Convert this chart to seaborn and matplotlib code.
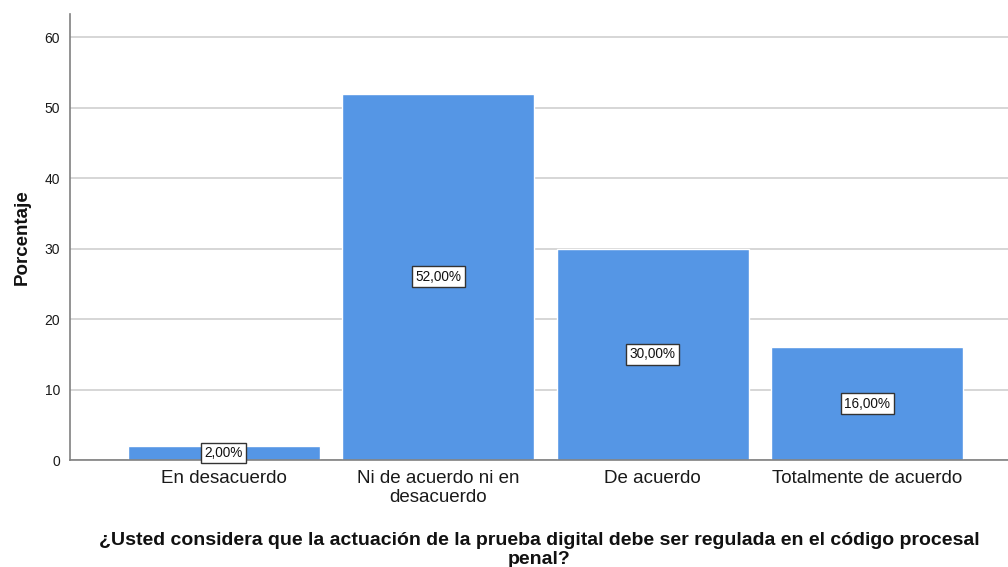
import pandas as pd
import seaborn as sns
import matplotlib.pyplot as plt

categorias = ["En desacuerdo", "Ni de acuerdo ni en\ndesacuerdo", "De acuerdo", "Totalmente de acuerdo"]
porcentajes = [2.0, 52.0, 30.0, 16.0]
ticks_y = [0, 10, 20, 30, 40, 50, 60]

titulo = "¿Usted considera que la actuación de la prueba digital debe ser regulada en el código procesal\npenal?"


def plot_barras(df):
    fig = plt.figure(figsize=(10.08, 5.67), dpi=100)
    ax = fig.add_axes([0.0694, 0.1887, 0.9306, 0.7866])
    sns.barplot(data=df, x="categoria", y="porcentaje", color="#5596E5",
                width=0.895, saturation=1, ax=ax, zorder=2)
    ax.set_xlim(-0.718, 3.657)
    ax.set_ylim(0, 63.3)
    ax.set_yticks(ticks_y)
    ax.yaxis.grid(True, color="#D0D0D0", linewidth=1.2, zorder=0)
    ax.set_axisbelow(True)
    for s in ["top", "right"]:
        ax.spines[s].set_visible(False)
    for s in ["left", "bottom"]:
        ax.spines[s].set_color("#808080")
        ax.spines[s].set_linewidth(1.2)
    ax.tick_params(axis="both", length=0)
    ax.tick_params(axis="x", labelsize=13.5, colors="#1a1a1a", pad=7)
    ax.tick_params(axis="y", labelsize=10, colors="#1a1a1a", pad=7)
    for lab in ax.get_xticklabels():
        lab.set_linespacing(1.15)
    ax.set_ylabel("Porcentaje", fontsize=13.5, fontweight="bold", labelpad=10, color="#111111")
    ax.set_xlabel(titulo, fontsize=14, fontweight="bold", labelpad=19, linespacing=1.15,
                  color="#111111")

    # etiquetas de valor en el centro de cada barra
    for i, v in enumerate(df["porcentaje"]):
        ax.text(i, v / 2, f"{v:.2f}%".replace(".", ","), ha="center", va="center",
                fontsize=9.8, zorder=5, color="#111111",
                bbox=dict(boxstyle="square,pad=0.25", facecolor="white",
                          edgecolor="#333333", linewidth=1))
    return fig


if __name__ == "__main__":
    sns.set_style("white")
    plt.rcParams["font.family"] = ["Liberation Sans", "DejaVu Sans"]
    df = pd.DataFrame({"categoria": categorias, "porcentaje": porcentajes})
    fig = plot_barras(df)
    fig.savefig("out.png", dpi=100)
